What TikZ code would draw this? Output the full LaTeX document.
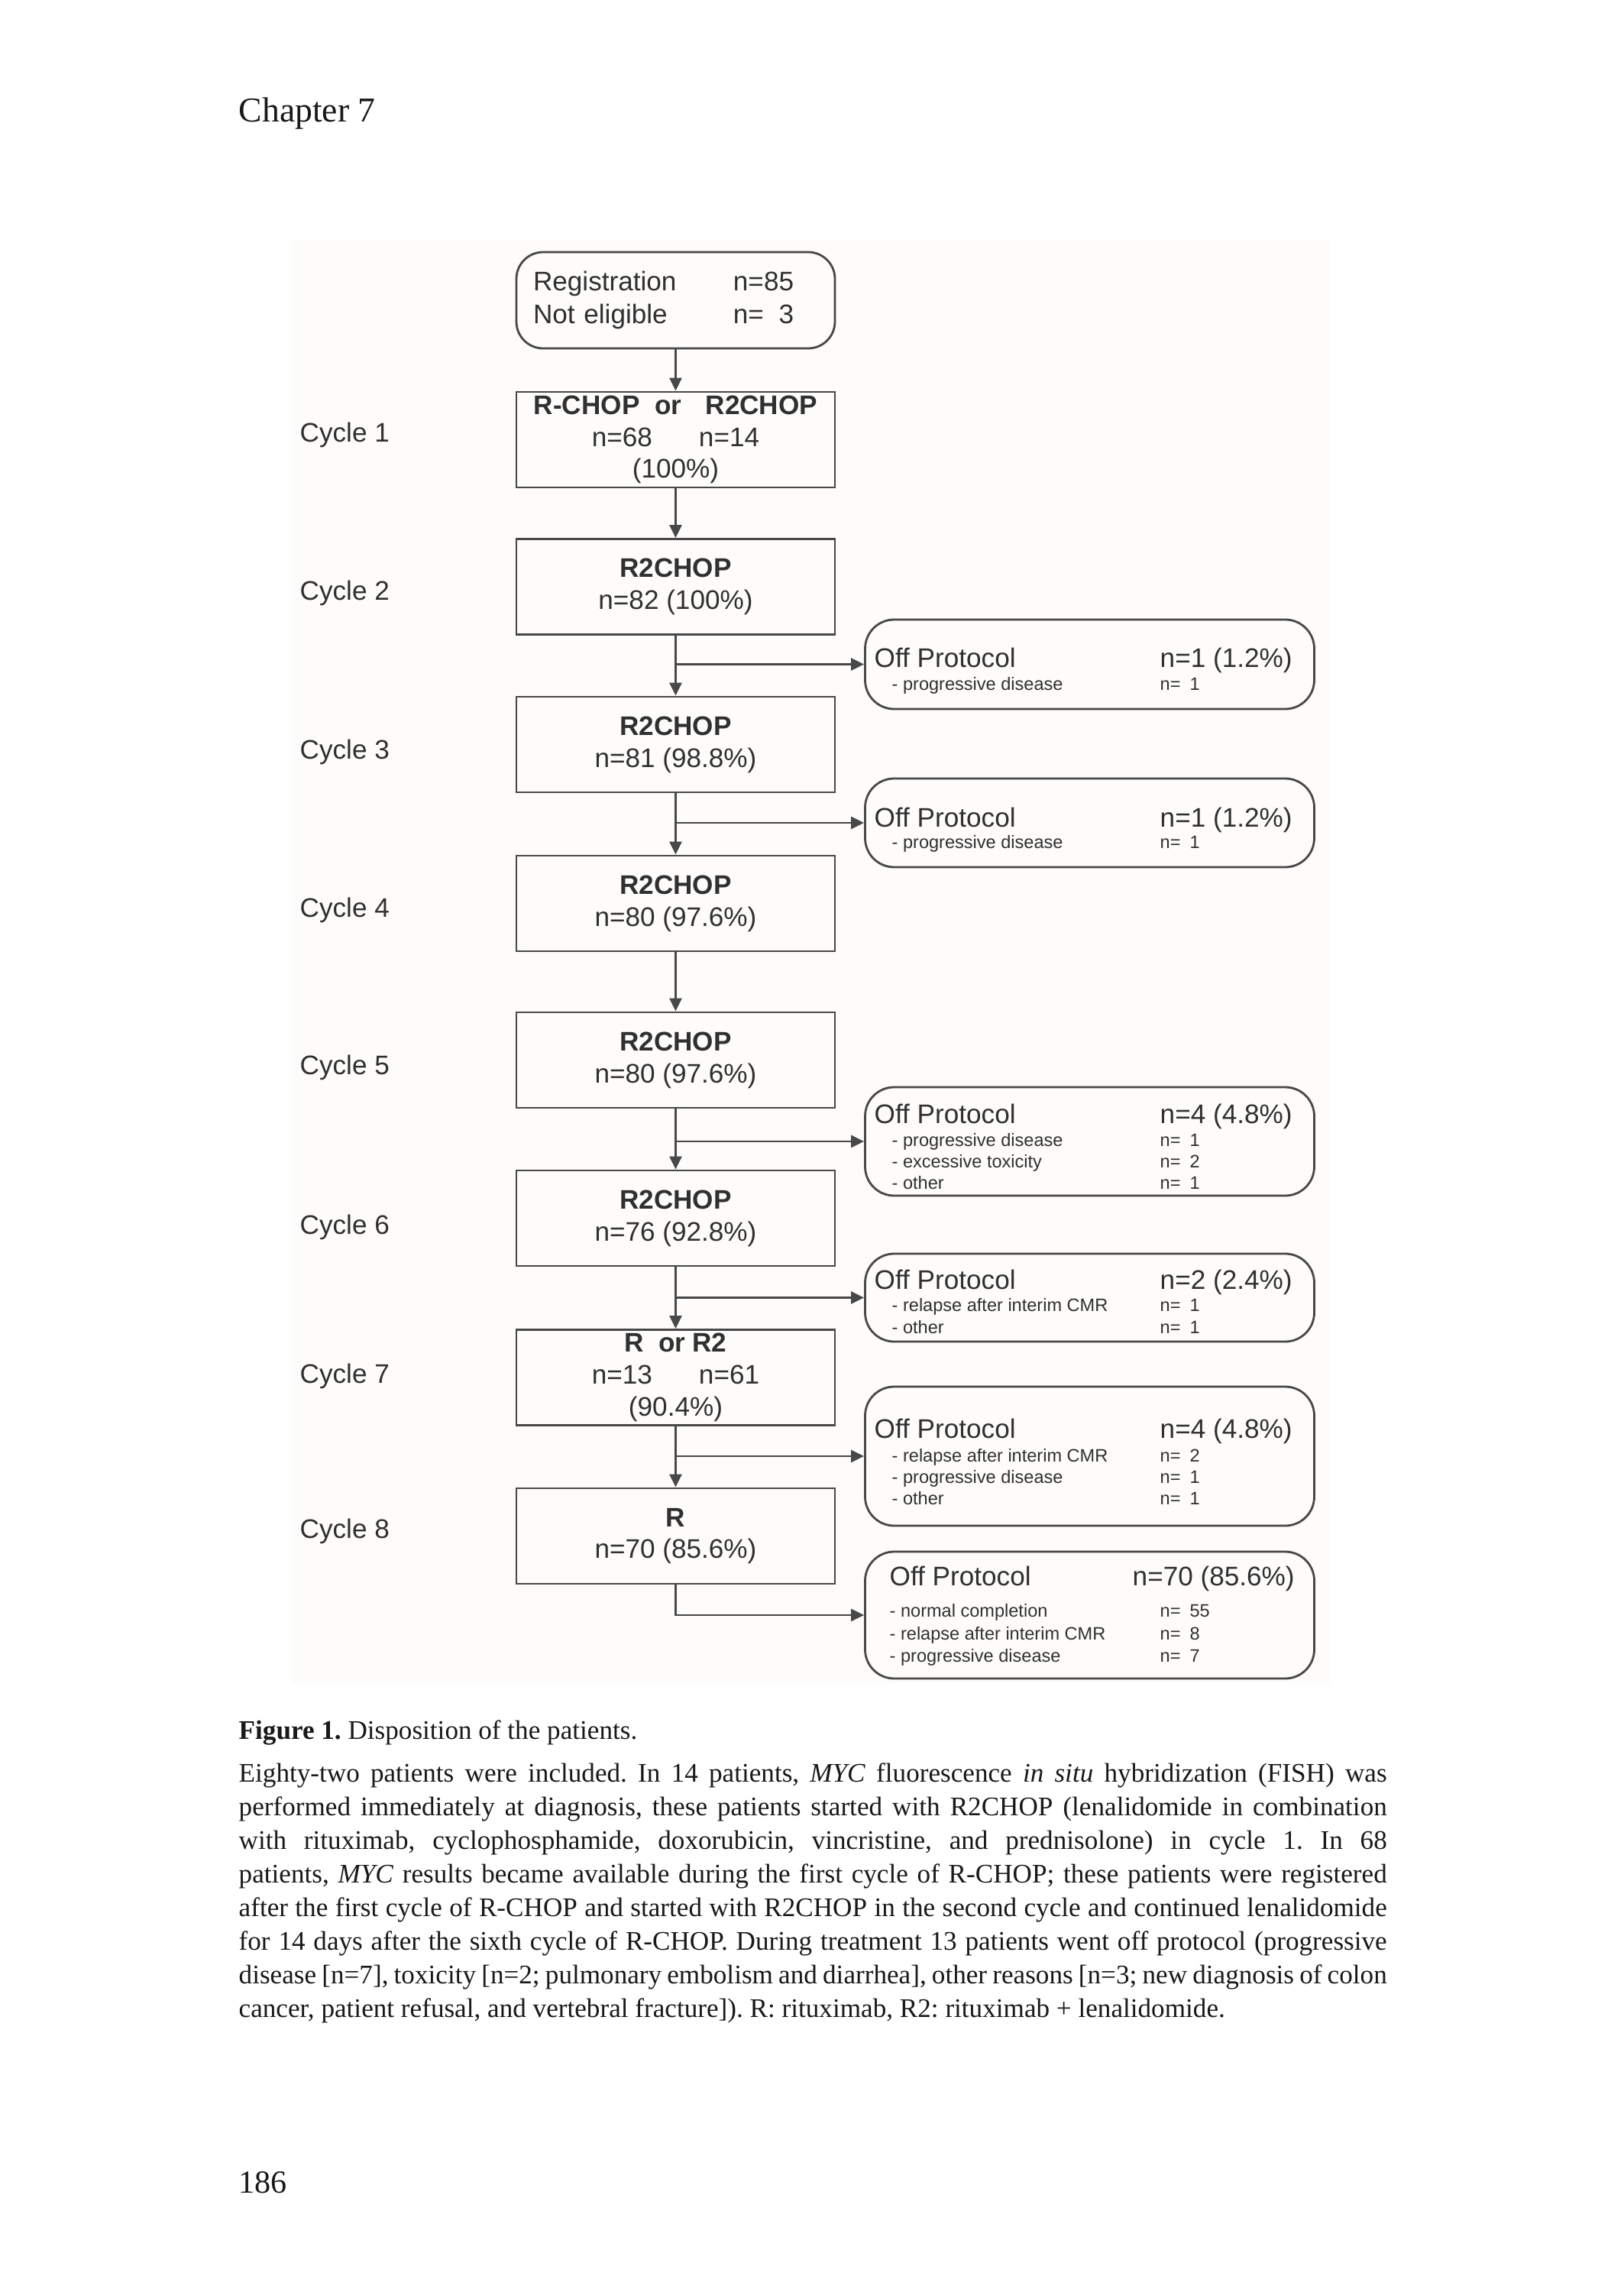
\documentclass[tikz,border=0pt]{standalone}
\usepackage{fontspec}
\setmainfont{Liberation Serif}
\setsansfont{Liberation Sans}
\usepackage{xcolor}
\usetikzlibrary{arrows.meta}
\definecolor{figbg}{RGB}{253,252,250}
\definecolor{figline}{RGB}{72,72,72}
\definecolor{figtext}{RGB}{48,48,48}
\frenchspacing

\begin{document}
\begin{tikzpicture}[
    box/.style={draw=figline, line width=0.8pt, minimum width=4.17cm, minimum height=1.25cm, align=center, text=figtext, inner sep=0pt, font=\sffamily\fontsize{10}{11.9}\selectfont},
    regbox/.style={box, rounded corners=0.35cm, align=left, text width=3.73cm, inner xsep=0.22cm, minimum height=1.26cm, font=\sffamily\fontsize{10}{12.2}\selectfont},
    offbox/.style={draw=figline, line width=0.8pt, rounded corners=0.38cm, minimum width=5.88cm},
    offhead/.style={anchor=base west, inner sep=0pt, text=figtext, font=\sffamily\fontsize{10}{12}\selectfont},
    offitem/.style={anchor=base west, inner sep=0pt, text=figtext, font=\sffamily\fontsize{6.7}{8}\selectfont},
    cyclelbl/.style={anchor=base west, inner sep=0pt, text=figtext, font=\sffamily\fontsize{10}{12}\selectfont},
    flow/.style={draw=figline, line width=0.8pt, -{Triangle[length=0.17cm,width=0.16cm]}},
    pagetext/.style={anchor=base west, inner sep=0pt, text=black!90},
]

\fill[white] (0,0) rectangle (21.25,-30);
\useasboundingbox (0,0) rectangle (21.25,-30);
\fill[figbg] (3.83,-3.13) rectangle (17.42,-22.03);

\node[pagetext, font=\fontsize{13}{15}\selectfont] (chap) at (3.12,-1.60) {Chapter 7};

% main column
\node[regbox] (reg) at (8.845,-3.93) {\makebox[2.62cm][l]{Registration}n=85\\\makebox[2.62cm][l]{Not eligible}n=\phantom{8}3};
\node[box] (c1) at (8.845,-5.755) {\textbf{R-CHOP\hspace{0.2cm}or\hspace{0.31cm}R2CHOP}\\n=68\hspace{0.61cm}n=14\\(100\%)};
\node[box] (c2) at (8.845,-7.68) {\textbf{R2CHOP}\\n=82 (100\%)};
\node[box] (c3) at (8.845,-9.745) {\textbf{R2CHOP}\\n=81 (98.8\%)};
\node[box] (c4) at (8.845,-11.825) {\textbf{R2CHOP}\\n=80 (97.6\%)};
\node[box] (c5) at (8.845,-13.875) {\textbf{R2CHOP}\\n=80 (97.6\%)};
\node[box] (c6) at (8.845,-15.945) {\textbf{R2CHOP}\\n=76 (92.8\%)};
\node[box] (c7) at (8.845,-18.03) {\textbf{R\hspace{0.19cm}or\hspace{0.09cm}R2}\\n=13\hspace{0.61cm}n=61\\(90.4\%)};
\node[box] (c8) at (8.845,-20.105) {\textbf{R}\\n=70 (85.6\%)};

\foreach \k/\y in {1/-5.78, 2/-7.85, 3/-9.93, 4/-12.00, 5/-14.06, 6/-16.15, 7/-18.10, 8/-20.13}
    \node[cyclelbl] (cyc\k) at (3.92,\y) {Cycle \k};

% off protocol boxes
\node[offbox, minimum height=1.17cm] (o1) at (14.265,-8.695) {};
\node[offhead] (o1t) at (11.44,-8.73) {Off Protocol};
\node[offhead] (o1n) at (15.18,-8.73) {n=1 (1.2\%)};
\node[offitem] (o1a) at (11.67,-9.03) {- progressive disease};
\node[offitem] (o1b) at (15.18,-9.03) {n=\hspace{0.12cm}1};

\node[offbox, minimum height=1.16cm] (o2) at (14.265,-10.77) {};
\node[offhead] (o2t) at (11.44,-10.82) {Off Protocol};
\node[offhead] (o2n) at (15.18,-10.82) {n=1 (1.2\%)};
\node[offitem] (o2a) at (11.67,-11.10) {- progressive disease};
\node[offitem] (o2b) at (15.18,-11.10) {n=\hspace{0.12cm}1};

\node[offbox, minimum height=1.42cm] (o3) at (14.265,-14.94) {};
\node[offhead] (o3t) at (11.44,-14.70) {Off Protocol};
\node[offhead] (o3n) at (15.18,-14.70) {n=4 (4.8\%)};
\foreach \lbl/\val/\y [count=\k] in {progressive disease/1/-15.00, excessive toxicity/2/-15.28, other/1/-15.56} {
    \node[offitem] (o3a\k) at (11.67,\y) {- \lbl};
    \node[offitem] (o3b\k) at (15.18,\y) {n=\hspace{0.12cm}\val};
}

\node[offbox, minimum height=1.15cm] (o4) at (14.265,-16.985) {};
\node[offhead] (o4t) at (11.44,-16.87) {Off Protocol};
\node[offhead] (o4n) at (15.18,-16.87) {n=2 (2.4\%)};
\foreach \lbl/\val/\y [count=\k] in {relapse after interim CMR/1/-17.16, other/1/-17.45} {
    \node[offitem] (o4a\k) at (11.67,\y) {- \lbl};
    \node[offitem] (o4b\k) at (15.18,\y) {n=\hspace{0.12cm}\val};
}

\node[offbox, minimum height=1.82cm] (o5) at (14.265,-19.06) {};
\node[offhead] (o5t) at (11.44,-18.82) {Off Protocol};
\node[offhead] (o5n) at (15.18,-18.82) {n=4 (4.8\%)};
\foreach \lbl/\val/\y [count=\k] in {relapse after interim CMR/2/-19.13, progressive disease/1/-19.41, other/1/-19.69} {
    \node[offitem] (o5a\k) at (11.67,\y) {- \lbl};
    \node[offitem] (o5b\k) at (15.18,\y) {n=\hspace{0.12cm}\val};
}

\node[offbox, minimum height=1.66cm] (o6) at (14.265,-21.14) {};
\node[offhead] (o6t) at (11.64,-20.75) {Off Protocol};
\node[offhead] (o6n) at (14.82,-20.75) {n=70 (85.6\%)};
\foreach \lbl/\val/\y [count=\k] in {normal completion/55/-21.16, relapse after interim CMR/8/-21.46, progressive disease/7/-21.75} {
    \node[offitem] (o6a\k) at (11.64,\y) {- \lbl};
    \node[offitem] (o6b\k) at (15.18,\y) {n=\hspace{0.12cm}\val};
}

% connectors
\draw[flow] (reg.south) -- (c1.north);
\foreach \a/\b in {c1/c2, c2/c3, c3/c4, c4/c5, c5/c6, c6/c7, c7/c8}
    \draw[flow] (\a.south) -- (\b.north);
\foreach \a/\b in {c2/o1, c3/o2, c5/o3, c6/o4, c7/o5}
    \draw[flow] (\a.south |- \b.west) -- (\b.west);
\draw[flow] (c8.south) |- (o6.west);

% caption
\node[pagetext, font=\fontsize{10}{12.5}\selectfont] (capt) at (3.12,-22.76) {\textbf{Figure 1.} Disposition of the patients.};
\node[pagetext, font=\fontsize{10}{12.52}\selectfont, text width=15.03cm, align=justify] (legend) at (3.12,-23.32) {Eighty-two patients were included. In 14 patients, \textit{MYC} fluorescence \textit{in situ} hybridization (FISH) was\linebreak
performed immediately at diagnosis, these patients started with R2CHOP (lenalidomide in combination\linebreak
with rituximab, cyclophosphamide, doxorubicin, vincristine, and prednisolone) in cycle 1. In 68\linebreak
patients, \textit{MYC} results became available during the first cycle of R-CHOP; these patients were registered\linebreak
after the first cycle of R-CHOP and started with R2CHOP in the second cycle and continued lenalidomide\linebreak
for 14 days after the sixth cycle of R-CHOP. During treatment 13 patients went off protocol (progressive\linebreak
disease [n=7], toxicity [n=2; pulmonary embolism and diarrhea], other reasons [n=3; new diagnosis of colon\linebreak
cancer, patient refusal, and vertebral fracture]). R: rituximab, R2: rituximab + lenalidomide.};

\node[pagetext, font=\fontsize{12}{14}\selectfont] (pnum) at (3.12,-28.70) {186};

\end{tikzpicture}
\end{document}
